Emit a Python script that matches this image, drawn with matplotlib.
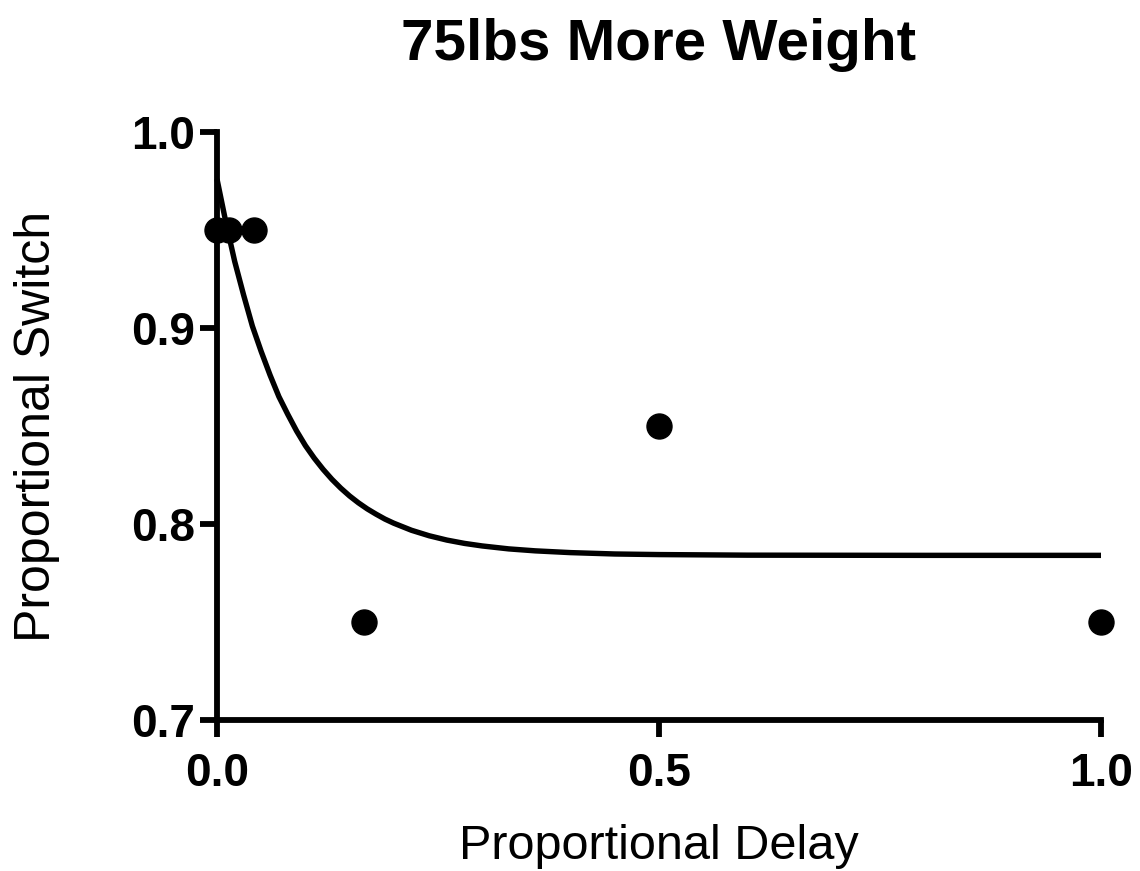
import matplotlib
matplotlib.use("Agg")
import matplotlib.pyplot as plt

plt.rcParams['font.family'] = ['Liberation Sans', 'DejaVu Sans']

# observed points
delay = [0.0, 0.0139, 0.0417, 0.1667, 0.5, 1.0]
switch = [0.95, 0.95, 0.95, 0.75, 0.85, 0.75]

# fitted curve
curve_x = [0.0, 0.01, 0.02, 0.03, 0.04, 0.05, 0.06, 0.07, 0.08, 0.09, 0.10,
           0.11, 0.12, 0.13, 0.14, 0.15, 0.16, 0.17, 0.18, 0.19, 0.20,
           0.22, 0.24, 0.26, 0.28, 0.30, 0.33, 0.36, 0.40, 0.45, 0.5, 0.6, 0.8, 1.0]
curve_y = [0.976, 0.954, 0.934, 0.917, 0.901, 0.888, 0.876, 0.865, 0.856, 0.8475, 0.840,
           0.8336, 0.8279, 0.8228, 0.8183, 0.8143, 0.8108, 0.8077, 0.8050, 0.8025, 0.8004,
           0.7968, 0.7940, 0.7918, 0.7901, 0.7888, 0.7873, 0.7863, 0.7854, 0.7847, 0.7844,
           0.7841, 0.784, 0.784]

x_ticks = [0.0, 0.5, 1.0]
y_ticks = [0.7, 0.8, 0.9, 1.0]

fig = plt.figure(figsize=(11.4, 8.71), dpi=100)
ax = fig.add_axes([217 / 1140, 1 - 720 / 871, 884 / 1140, 588 / 871])

ax.plot(curve_x, curve_y, color='black', lw=3.9, clip_on=False,
        solid_capstyle='butt', solid_joinstyle='round')
ax.plot(delay, switch, 'o', color='black', markersize=18, clip_on=False, zorder=5)

ax.set_xlim(0, 1)
ax.set_ylim(0.7, 1.0)
ax.set_xticks(x_ticks)
ax.set_yticks(y_ticks)
ax.set_xticklabels([f"{t:.1f}" for t in x_ticks], fontsize=33, fontweight='bold')
ax.set_yticklabels([f"{t:.1f}" for t in y_ticks], fontsize=33, fontweight='bold')

for side in ['top', 'right']:
    ax.spines[side].set_visible(False)
for side in ['left', 'bottom']:
    ax.spines[side].set_linewidth(4.2)
ax.tick_params(axis='both', direction='out', length=12, width=4.2)
ax.tick_params(axis='x', pad=11)
ax.tick_params(axis='y', pad=4)

ax.set_xlabel('Proportional Delay', fontsize=35, labelpad=20)
ax.set_ylabel('Proportional Switch', fontsize=36, labelpad=51)
ax.set_title('75lbs More Weight', fontsize=42, fontweight='bold', pad=52)

fig.savefig('out.png', dpi=100)
